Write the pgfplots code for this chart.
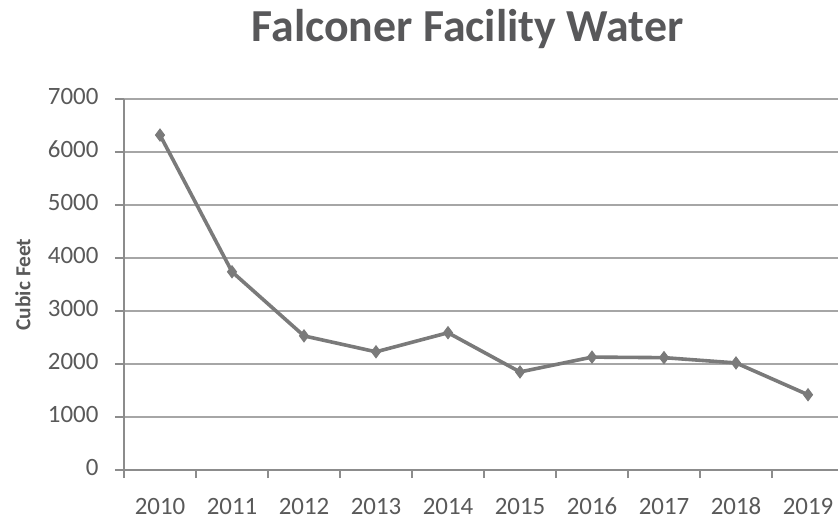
\documentclass[border=0pt]{standalone}
\usepackage{pgfplots}
\pgfplotsset{compat=1.18}
\usepackage{fontspec}
\setmainfont{Carlito}
\definecolor{txt}{HTML}{595959}
\definecolor{ttl}{HTML}{58585A}
\definecolor{axl}{HTML}{8C8C8C}
\definecolor{grd}{HTML}{A6A6A6}
\definecolor{ln}{HTML}{7A7A7A}
\begin{document}
\begin{tikzpicture}
\path[use as bounding box] (-124bp,-50bp) rectangle (714bp,470bp);
\begin{axis}[
  at={(0,0)}, anchor=south west,
  scale only axis,
  width=720bp, height=371bp,
  xmin=-0.5, xmax=9.5, ymin=0, ymax=7000,
  xtick={0,...,9},
  xticklabels={2010,2011,2012,2013,2014,2015,2016,2017,2018,2019},
  minor xtick={-0.5,0.5,...,9.5},
  major x tick style={draw=none},
  minor x tick style={draw=axl, line width=1.5bp},
  ytick={0,1000,...,7000},
  ymajorgrids,
  grid style={draw=grd, line width=1.6bp},
  axis line style={draw=axl, line width=1.6bp},
  axis x line*=bottom, axis y line*=left,
  y tick style={draw=axl, line width=1.5bp},
  tick align=outside,
  major tick length=9bp, minor tick length=8bp,
  ticklabel style={font=\fontsize{25}{27}\selectfont, text=txt},
  typeset ticklabels with strut,
  /pgf/number format/assume math mode=true,
  /pgf/number format/1000 sep={},
  xticklabel style={yshift=-13bp},
  yticklabel style={xshift=-13bp},
  ylabel={\textbf{Cubic Feet}},
  ylabel style={font=\fontsize{21.5}{23}\selectfont, text=txt, at={(rel axis cs:0,0.5)}, anchor=center, rotate=0, yshift=101bp},
  clip=false,
]
\addplot[color=ln, line width=3.6bp, mark=diamond*, mark size=6bp, mark options={fill=ln, draw=ln, line width=1bp}]
  coordinates {(0,6320) (1,3740) (2,2530) (3,2230) (4,2590) (5,1850) (6,2130) (7,2120) (8,2020) (9,1420)};
\node[font=\fontsize{46}{52}\selectfont\bfseries, text=ttl, anchor=base] at (rel axis cs:0.477,1.0) [yshift=57bp] {Falconer Facility Water};
\end{axis}
\end{tikzpicture}
\end{document}
